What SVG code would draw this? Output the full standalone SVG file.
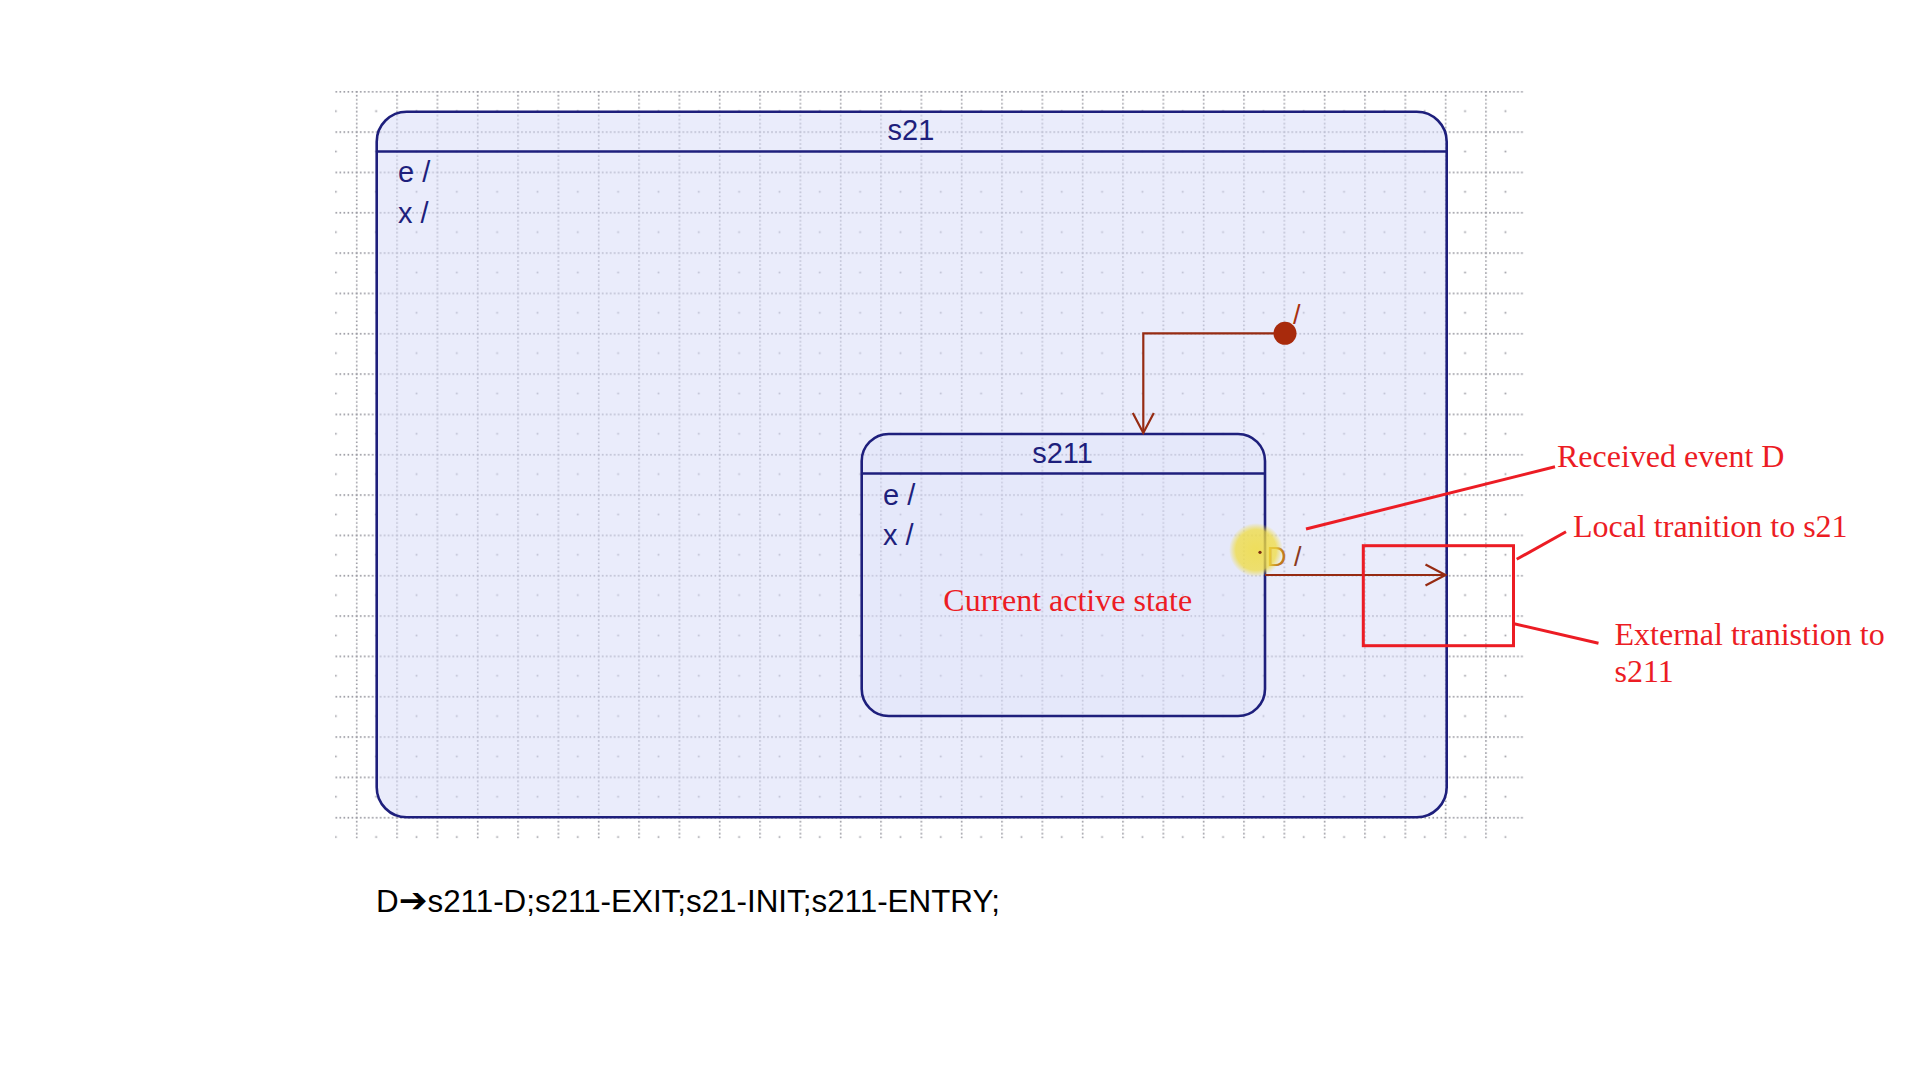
<svg xmlns="http://www.w3.org/2000/svg" width="1920" height="1080" viewBox="0 0 1920 1080">
  <style>
    .state { fill: #d9dcf7; fill-opacity: 0.55; stroke: #1e1f7c; stroke-width: 2.6; }
    .inner { fill: #d9dcf7; fill-opacity: 0.25; stroke: #1e1f7c; stroke-width: 2.6; }
    .hdr { stroke: #1e1f7c; stroke-width: 2.6; }
    .lbl { font-family: "Liberation Sans", Arial, sans-serif; font-size: 29px; fill: #1e1f7c; }
    .title { font-family: "Liberation Sans", Arial, sans-serif; font-size: 29px; fill: #1e1f7c; text-anchor: middle; }
    .tr { fill: none; stroke: #962b12; stroke-width: 2.2; }
    .trl { font-family: "Liberation Sans", Arial, sans-serif; font-size: 27px; }
    .note { font-family: "Liberation Serif", "Times New Roman", serif; font-size: 32px; fill: #ec1c24; }
    .noteln { fill: none; stroke: #ec1c24; stroke-width: 3; }
    .gl { stroke: #9a9aa2; stroke-width: 1.6; stroke-dasharray: 1.6 2.4; }
  </style>
  <defs>
    <pattern id="grid" patternUnits="userSpaceOnUse" x="355.9" y="90.9" width="40.33" height="40.33">
      <line class="gl" x1="0" y1="0.8" x2="40.33" y2="0.8"/>
      <line class="gl" x1="0.8" y1="0" x2="0.8" y2="40.33"/>
      <rect x="19.4" y="19.4" width="1.7" height="1.7" fill="#9a9aa2"/>
    </pattern>
    <marker id="vhead" markerUnits="userSpaceOnUse" markerWidth="30" markerHeight="30" viewBox="-25 -15 30 30" refX="0" refY="0" orient="auto">
      <path d="M -20 -10.5 L 0 0 L -20 10.5" fill="none" stroke="#962b12" stroke-width="2.2"/>
    </marker>
    <radialGradient id="hl">
      <stop offset="0" stop-color="#f0dc40" stop-opacity="0.85"/>
      <stop offset="0.75" stop-color="#f0dc40" stop-opacity="0.75"/>
      <stop offset="1" stop-color="#f0dc40" stop-opacity="0"/>
    </radialGradient>
  </defs>

  <rect width="1920" height="1080" fill="#ffffff"/>

  <g id="grid-bg">
    <rect x="335" y="90.9" width="1189" height="747.5" fill="url(#grid)"/>
  </g>

  <g id="s21">
    <rect class="state" x="376.7" y="111.7" width="1070" height="705.6" rx="30" ry="30"/>
    <line class="hdr" x1="376.7" y1="151.5" x2="1446.7" y2="151.5"/>
    <text class="title" x="911" y="140">s21</text>
    <text class="lbl" x="398" y="181.7">e /</text>
    <text class="lbl" x="398" y="223.3">x /</text>
  </g>

  <g id="s211">
    <rect class="inner" x="861.7" y="434" width="403.3" height="282" rx="27" ry="27"/>
    <line class="hdr" x1="861.7" y1="473.5" x2="1265" y2="473.5"/>
    <text class="title" x="1062.5" y="463.3">s211</text>
    <text class="lbl" x="883" y="505">e /</text>
    <text class="lbl" x="883" y="545">x /</text>
    <text class="note" x="943.3" y="610.7">Current active state</text>
  </g>

  <g id="connectors">
    <path class="tr" d="M 1285 333.3 H 1143.3 V 433" marker-end="url(#vhead)"/>
    <text class="trl" x="1293" y="323.5" fill="#a83010">/</text>
    <path class="tr" d="M 1265 575 H 1445.5" marker-end="url(#vhead)"/>
    <text class="trl" x="1267" y="566"><tspan fill="#c07a1e">D</tspan><tspan fill="#8a3a22"> /</tspan></text>
  </g>

  <g id="initial">
    <circle cx="1285" cy="333.3" r="11.5" fill="#a82a0c"/>
  </g>

  <g id="highlight">
    <circle cx="1256" cy="550" r="27" fill="url(#hl)"/>
    <circle cx="1260" cy="552.3" r="1.6" fill="#7a2a10"/>
  </g>

  <g id="annotations">
    <text class="note" x="1557" y="466.7">Received event D</text>
    <line class="noteln" x1="1555" y1="466.7" x2="1306" y2="529"/>
    <text class="note" x="1573" y="536.7">Local tranition to s21</text>
    <line class="noteln" x1="1566" y1="531.7" x2="1516.7" y2="559.3"/>
    <rect class="noteln" x="1363.3" y="545.7" width="150.2" height="100"/>
    <text class="note" x="1614.5" y="645">External tranistion to</text>
    <text class="note" x="1614.5" y="681.7">s211</text>
    <line class="noteln" x1="1598.5" y1="643.3" x2="1513" y2="623.5"/>
  </g>

  <g id="sequence">
    <text x="376" y="911.7" font-family="'Liberation Sans', Arial, sans-serif" font-size="31" fill="#000000" textLength="624" lengthAdjust="spacingAndGlyphs">D<tspan font-family="'DejaVu Sans', sans-serif" font-size="34">➔</tspan>s211-D;s211-EXIT;s21-INIT;s211-ENTRY;</text>
  </g>
</svg>
